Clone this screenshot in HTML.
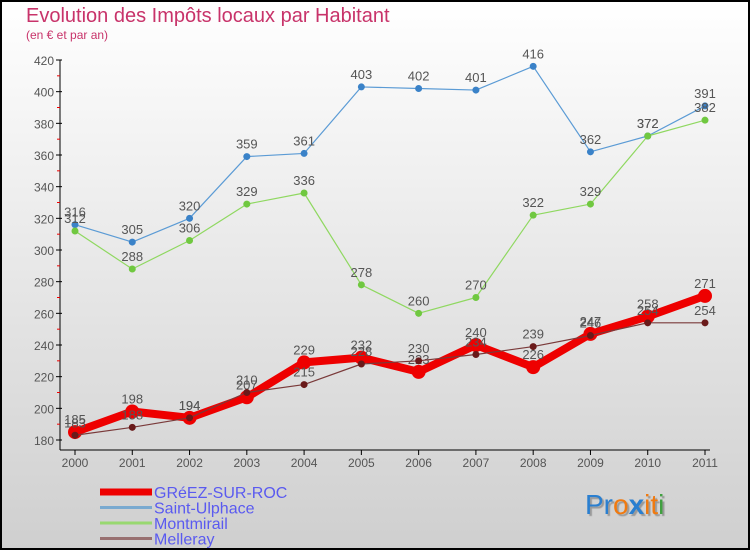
<!DOCTYPE html>
<html><head><meta charset="utf-8"><style>
body{margin:0;}
#wrap{width:750px;height:550px;position:relative;overflow:hidden;}
svg text{font-family:"Liberation Sans",sans-serif;}
</style></head><body>
<div id="wrap">
<svg id="chart" width="750" height="550" xmlns="http://www.w3.org/2000/svg">
<defs><linearGradient id="bg" x1="0" y1="0" x2="0" y2="1"><stop offset="0" stop-color="#ffffff"/><stop offset="1" stop-color="#cfcfcf"/></linearGradient></defs>
<rect x="1" y="1" width="748" height="548" fill="url(#bg)" stroke="#000" stroke-width="2"/>
<text x="26" y="22" font-size="20" fill="#c8336a">Evolution des Impôts locaux par Habitant</text>
<text x="26" y="39" font-size="12" fill="#c8336a">(en € et par an)</text>
<g id="axes"></g><g id="series"></g><g id="legend"></g>
<text x="585" y="514" font-size="28" style="text-shadow:2px 2px 1px #999"><tspan fill="#2a7fd0">Pr</tspan><tspan fill="#f07a10">o</tspan><tspan fill="#2a7fd0" font-weight="bold">x</tspan><tspan fill="#f07a10">it</tspan><tspan fill="#40a040">i</tspan></text>
</svg></div>
<script>
const years=[2000,2001,2002,2003,2004,2005,2006,2007,2008,2009,2010,2011];
const gréez=[185,198,194,207,229,232,223,240,226,247,258,271];
const saintUlphace=[316,305,320,359,361,403,402,401,416,362,372,391];
const montmirail=[312,288,306,329,336,278,260,270,322,329,372,382];
const melleray=[183,188,194,210,215,228,230,234,239,246,254,254];
const yTicks=[180,200,220,240,260,280,300,320,340,360,380,400,420];
const seriesNames=["GRéEZ-SUR-ROC","Saint-Ulphace","Montmirail","Melleray"];
const NS="http://www.w3.org/2000/svg";
const xs=i=>75+i*(630/11);
const ys=v=>440-(v-180)*(380/240);
function mk(tag,attrs,parent){const e=document.createElementNS(NS,tag);for(const k in attrs)e.setAttribute(k,attrs[k]);parent.appendChild(e);return e;}
const ax=document.getElementById('axes');
let l=mk('line',{x1:60,y1:60,x2:60,y2:450,stroke:'#000','stroke-width':1},ax);


l=mk('line',{x1:60,y1:450,x2:710,y2:450,stroke:'#000','stroke-width':1},ax);


yTicks.forEach((v,i)=>{
  const y=ys(v);
  let t=mk('line',{x1:56,y1:y,x2:62,y2:y,stroke:'#000'},ax);
  
  
  let tx=mk('text',{x:54,y:y+5,'font-size':12,'text-anchor':'end',fill:'#555'},ax);tx.textContent=v;
  
  
  if(i<yTicks.length-1){const ym=ys(v+10);let m=mk('line',{x1:57,y1:ym,x2:60,y2:ym,stroke:'#e00'},ax);
  
  }
});
years.forEach((yr,i)=>{
  const x=xs(i);
  let t=mk('line',{x1:x,y1:450,x2:x,y2:455,stroke:'#000'},ax);
  
  
  let tx=mk('text',{x:x,y:467,'font-size':12,'text-anchor':'middle',fill:'#555'},ax);tx.textContent=yr;
  
  
});
const sg=document.getElementById('series');
function drawSeries(vals,color,dot,w,r,name){
  const g=mk('g',{},sg);
  
  
  const p=mk('polyline',{points:vals.map((v,i)=>xs(i)+','+ys(v)).join(' '),fill:'none',stroke:color,'stroke-width':w,'stroke-linejoin':'round'},g);
  
  
  vals.forEach((v,i)=>{
    const c=mk('circle',{cx:xs(i),cy:ys(v),r:r,fill:dot},g);
    
    
    const t=mk('text',{x:xs(i),y:ys(v)-8,'font-size':13,'text-anchor':'middle',fill:'#555'},g);t.textContent=v;
    
    
  });
}
drawSeries(saintUlphace,'#5b9bd5','#3a82c8',1.2,3.5,'saint-ulphace-series');
drawSeries(montmirail,'#8fd860','#70c840',1.2,3.5,'montmirail-series');
drawSeries(gréez,'#ee0000','#ee0000',8,7,'greez-series');
drawSeries(melleray,'#7a3a3a','#6a1a1a',1.2,3.5,'melleray-series');
const lg=document.getElementById('legend');
const lcols=['#ee0000','#7aaad0','#98d870','#987070'];const lw=[7,3,3,3];
seriesNames.forEach((n,i)=>{
  const y=492+i*15.5;
  const e=mk('line',{x1:100,y1:y,x2:152,y2:y,stroke:lcols[i],'stroke-width':lw[i]},lg);
  
  
  const t=mk('text',{x:154,y:y+6,'font-size':16,fill:'#5a5af0'},lg);t.textContent=n;
  
  
});
</script>
</body></html>
